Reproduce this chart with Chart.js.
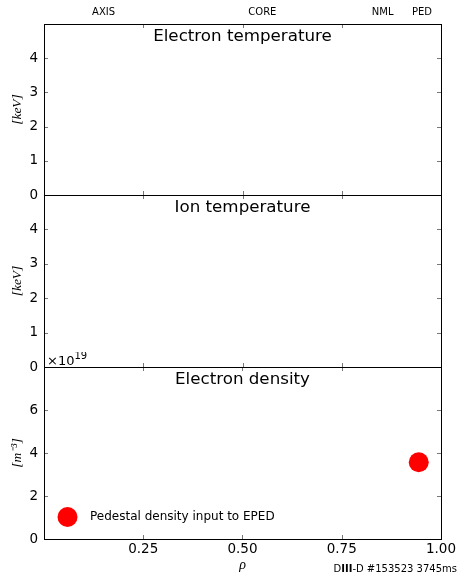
<!DOCTYPE html>
<html>
<head>
<meta charset="utf-8">
<script src="https://cdn.jsdelivr.net/npm/chart.js@4.4.0/dist/chart.umd.min.js"></script>
<style>
  html, body { margin: 0; padding: 0; background: #fff; }
  #wrap { position: relative; width: 458px; height: 574px; overflow: hidden; }
  #wrap canvas { position: absolute; left: 0; }
</style>
</head>
<body>
<div id="wrap">
  <canvas id="teChart" width="458" height="215" style="top:0px"></canvas>
  <canvas id="tiChart" width="458" height="210" style="top:180px"></canvas>
  <canvas id="neChart" width="458" height="222" style="top:352px"></canvas>
</div>
<script>
// x axis (normalized radius rho)
const rhoTicks = [0.25, 0.5, 0.75, 1.0];

// region labels along the top of the figure
const regionNames = ['AXIS', 'CORE', 'NML', 'PED'];
const regionRho = [0.15, 0.55, 0.853, 0.952];

// y ticks of each panel
const teTicks = [0, 1, 2, 3, 4];
const tiTicks = [0, 1, 2, 3, 4];
const neTicks = [0, 2, 4, 6];

// pedestal density point (units of 1e19 m^-3)
const pedRho = [0.944];
const pedNe = [3.57];
const pedLabel = 'Pedestal density input to EPED';

const SANS = '"DejaVu Sans", sans-serif';
const SERIF = '"Liberation Serif", serif';

// frame, inward ticks, panel titles and the extra annotations
const panelDecor = {
    id: 'panelDecor',
    afterDraw(chart, args, opts) {
        const ctx = chart.ctx;
        const a = chart.chartArea;
        const xs = chart.scales.x;
        const ys = chart.scales.y;
        ctx.save();

        // inward tick marks
        ctx.strokeStyle = '#777';
        ctx.lineWidth = 1;
        ctx.beginPath();
        rhoTicks.forEach(v => {
            const px = Math.round(xs.getPixelForValue(v)) + 0.5;
            ctx.moveTo(px, a.top); ctx.lineTo(px, a.top + 4);
            ctx.moveTo(px, a.bottom); ctx.lineTo(px, a.bottom - 4);
        });
        opts.yTicks.forEach(v => {
            const py = Math.round(ys.getPixelForValue(v)) + 0.5;
            ctx.moveTo(a.left, py); ctx.lineTo(a.left + 4, py);
            ctx.moveTo(a.right, py); ctx.lineTo(a.right - 4, py);
        });
        ctx.stroke();

        // frame
        ctx.strokeStyle = '#000';
        ctx.lineWidth = 1;
        ctx.strokeRect(Math.round(a.left) + 0.5, Math.round(a.top) + 0.5,
            Math.round(a.right - a.left), Math.round(a.bottom - a.top));

        // panel title
        ctx.fillStyle = '#000';
        ctx.font = '16.7px ' + SANS;
        ctx.textAlign = 'center';
        ctx.textBaseline = 'alphabetic';
        ctx.fillText(opts.title, (a.left + a.right) / 2, a.top + 17);

        if (opts.density) {
            // axis multiplier
            ctx.textAlign = 'left';
            ctx.font = '13px ' + SANS;
            ctx.fillText('\u00d710', a.left + 3, a.top - 2);
            const w = ctx.measureText('\u00d710').width;
            ctx.font = '10px ' + SANS;
            ctx.fillText('19', a.left + 3 + w, a.top - 8);

            // legend
            const ds = chart.data.datasets[0];
            const lx = a.left + 23.5;
            const ly = a.bottom - 22;
            ctx.beginPath();
            ctx.arc(lx, ly, 10, 0, Math.PI * 2);
            ctx.fillStyle = ds.backgroundColor;
            ctx.fill();
            ctx.fillStyle = '#000';
            ctx.font = '12px ' + SANS;
            ctx.textBaseline = 'middle';
            ctx.fillText(ds.label, a.left + 46, ly);

            // shot label
            ctx.textBaseline = 'alphabetic';
            const parts = [['D', ''], ['III', 'bold '], ['-D #153523 3745ms', '']];
            let total = 0;
            parts.forEach(p => { ctx.font = p[1] + '10px ' + SANS; total += ctx.measureText(p[0]).width; });
            let fx = chart.width - 1 - total;
            parts.forEach(p => {
                ctx.font = p[1] + '10px ' + SANS;
                ctx.fillText(p[0], fx, chart.height - 2);
                fx += ctx.measureText(p[0]).width;
            });
        }
        ctx.restore();
    }
};

function buildPanel(canvasId, cfg) {
    const scales = {
        x: {
            type: 'linear',
            min: 0,
            max: 1,
            display: cfg.showX,
            afterBuildTicks: s => { s.ticks = rhoTicks.map(v => ({ value: v })); },
            afterFit: s => { s.height = cfg.showX ? 35 : 0; },
            grid: { display: false, drawTicks: false },
            border: { display: false },
            ticks: {
                color: '#000',
                font: { family: SANS, size: 13.5 },
                padding: 2,
                maxRotation: 0,
                autoSkip: false,
                callback: v => Number(v).toFixed(2)
            },
            title: {
                display: true,
                text: '\u03c1',
                color: '#000',
                font: { family: SERIF, style: 'italic', size: 14 },
                padding: 0
            }
        },
        y: {
            type: 'linear',
            min: 0,
            max: cfg.yMax,
            afterBuildTicks: s => { s.ticks = cfg.yTicks.map(v => ({ value: v })); },
            afterFit: s => { s.width = 44; },
            grid: { display: false, drawTicks: false },
            border: { display: false },
            ticks: {
                color: '#000',
                font: { family: SANS, size: 13.5 },
                padding: 6
            },
            title: {
                display: true,
                text: cfg.yTitle,
                color: '#000',
                font: { family: SERIF, style: 'italic', size: 13.5 },
                padding: { top: 9, bottom: 0 }
            }
        }
    };

    if (cfg.regions) {
        scales.regions = {
            type: 'linear',
            position: 'top',
            min: 0,
            max: 1,
            afterBuildTicks: s => { s.ticks = regionRho.map(v => ({ value: v })); },
            afterFit: s => { s.height = 24; },
            grid: { display: false, drawTicks: false },
            border: { display: false },
            ticks: {
                color: '#000',
                font: { family: SANS, size: 10 },
                padding: 6,
                maxRotation: 0,
                autoSkip: false,
                callback: (v, i) => regionNames[i]
            }
        };
    }

    return new Chart(document.getElementById(canvasId), {
        type: 'scatter',
        data: { datasets: cfg.datasets },
        options: {
            responsive: false,
            animation: false,
            layout: { padding: cfg.padding },
            plugins: {
                legend: { display: false },
                tooltip: { enabled: false },
                panelDecor: {
                    title: cfg.title,
                    yTicks: cfg.yTicks,
                    density: !!cfg.density
                }
            },
            scales: scales
        },
        plugins: [panelDecor]
    });
}

buildPanel('teChart', {
    title: 'Electron temperature',
    yTitle: '[keV]',
    yMax: 5,
    yTicks: teTicks,
    showX: false,
    regions: true,
    padding: { top: 0, bottom: 20, left: 0, right: 17 },
    datasets: []
});

buildPanel('tiChart', {
    title: 'Ion temperature',
    yTitle: '[keV]',
    yMax: 5,
    yTicks: tiTicks,
    showX: false,
    padding: { top: 15, bottom: 23, left: 0, right: 17 },
    datasets: []
});

buildPanel('neChart', {
    title: 'Electron density',
    yTitle: '[m\u207b\u00b3]',
    yMax: 8,
    yTicks: neTicks,
    showX: true,
    density: true,
    padding: { top: 15, bottom: 0, left: 0, right: 17 },
    datasets: [{
        label: pedLabel,
        data: pedRho.map((r, i) => ({ x: r, y: pedNe[i] })),
        backgroundColor: '#ff0000',
        borderWidth: 0,
        pointRadius: 10
    }]
});
</script>
</body>
</html>
